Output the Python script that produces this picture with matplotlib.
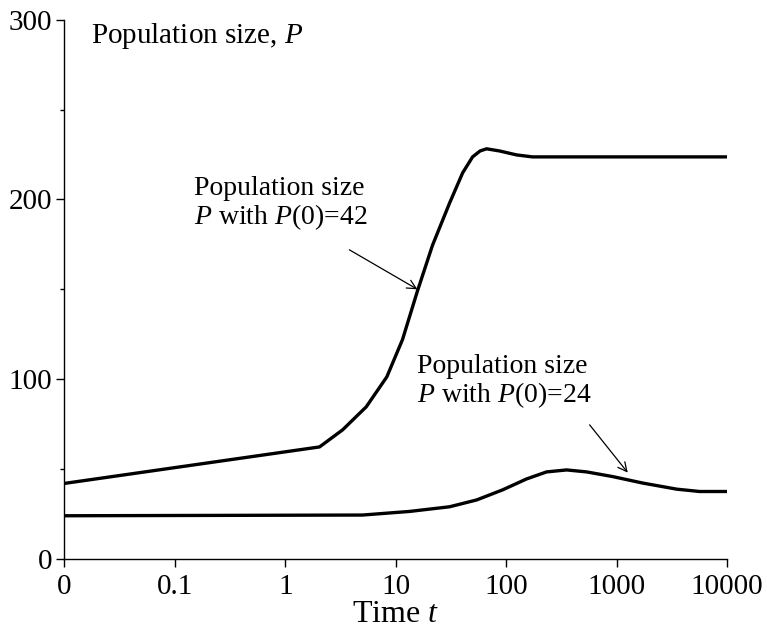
import numpy as np
import matplotlib
matplotlib.use("Agg")
import matplotlib.pyplot as plt

plt.rcParams['font.family'] = ['Liberation Serif', 'DejaVu Serif']
plt.rcParams['mathtext.fontset'] = 'custom'
plt.rcParams['mathtext.rm'] = 'Liberation Serif'
plt.rcParams['mathtext.it'] = 'Liberation Serif:italic'

# Data (time t, population P)
t_42 = [0, 2.04, 3.3, 5.4, 8.3, 11.5, 15.7, 21.5, 30.7, 40.3, 49.6, 58, 66.4, 87, 124, 173, 300, 1000, 10000]
p_42 = [42, 62.3, 71.8, 84.6, 101.3, 122, 149, 174.5, 198, 214.8, 223.7, 227, 228.2, 227, 224.8, 223.7, 223.7, 223.7, 223.7]

t_24 = [0, 5, 13.3, 30.7, 54, 92.7, 153, 232, 352, 535, 920, 1720, 3500, 5630, 10000]
p_24 = [24, 24.4, 26.4, 29.0, 32.8, 38.4, 44.5, 48.4, 49.5, 48.4, 45.8, 42.2, 38.8, 37.5, 37.5]

xticks = [0, 0.1, 1, 10, 100, 1000, 10000]
xticklabels = ["0", "0.1", "1", "10", "100", "1000", "10000"]
yticks = [0, 100, 200, 300]

fig = plt.figure(figsize=(7.67, 6.38), dpi=100)
ax = fig.add_axes([0.084, 0.124, 0.864, 0.845])

def fwd(t):
    t = np.asarray(t, dtype=float)
    return np.log10(np.maximum(t, 0.01))

def inv(x):
    return 10.0 ** np.asarray(x, dtype=float)

ax.set_xscale('function', functions=(fwd, inv))

ax.plot(t_42, p_42, color='black', lw=2.4, solid_capstyle='butt', solid_joinstyle='round')
ax.plot(t_24, p_24, color='black', lw=2.4, solid_capstyle='butt', solid_joinstyle='round')

ax.set_xlim(0, 10000)
ax.set_ylim(0, 300)
ax.set_xticks(xticks)
ax.set_xticklabels(xticklabels)
ax.set_yticks(yticks)
ax.set_yticks([50, 150, 250], minor=True)
ax.xaxis.set_minor_locator(matplotlib.ticker.NullLocator())

for s in ['top', 'right']:
    ax.spines[s].set_visible(False)
for s in ['left', 'bottom']:
    ax.spines[s].set_linewidth(1.0)

ax.tick_params(axis='both', which='major', labelsize=21, direction='out', length=6, width=1)
ax.tick_params(axis='y', which='minor', direction='out', length=3, width=1)
ax.tick_params(axis='x', pad=5)
ax.tick_params(axis='y', pad=3)

ax.set_xlabel(r"Time $t$", fontsize=23, labelpad=0)

ax.text(0.04, 0.998, r"Population size, $P$", transform=ax.transAxes,
        fontsize=21, ha='left', va='top')

ax.text(0.15, 182, "Population size\n" + r"$P$ with $P$(0)=42",
        fontsize=20, ha='left', va='bottom', linespacing=1.05)
ax.annotate("", xy=(15.7, 150), xytext=(3.8, 172),
            arrowprops=dict(arrowstyle='->', color='black', lw=0.9,
                            shrinkA=0, shrinkB=0, mutation_scale=16))

ax.text(15.7, 83, "Population size\n" + r"$P$ with $P$(0)=24",
        fontsize=20, ha='left', va='bottom', linespacing=1.05)
ax.annotate("", xy=(1260, 48), xytext=(569, 74.6),
            arrowprops=dict(arrowstyle='->', color='black', lw=0.9,
                            shrinkA=0, shrinkB=0, mutation_scale=16))

fig.savefig("out.png", dpi=100)
